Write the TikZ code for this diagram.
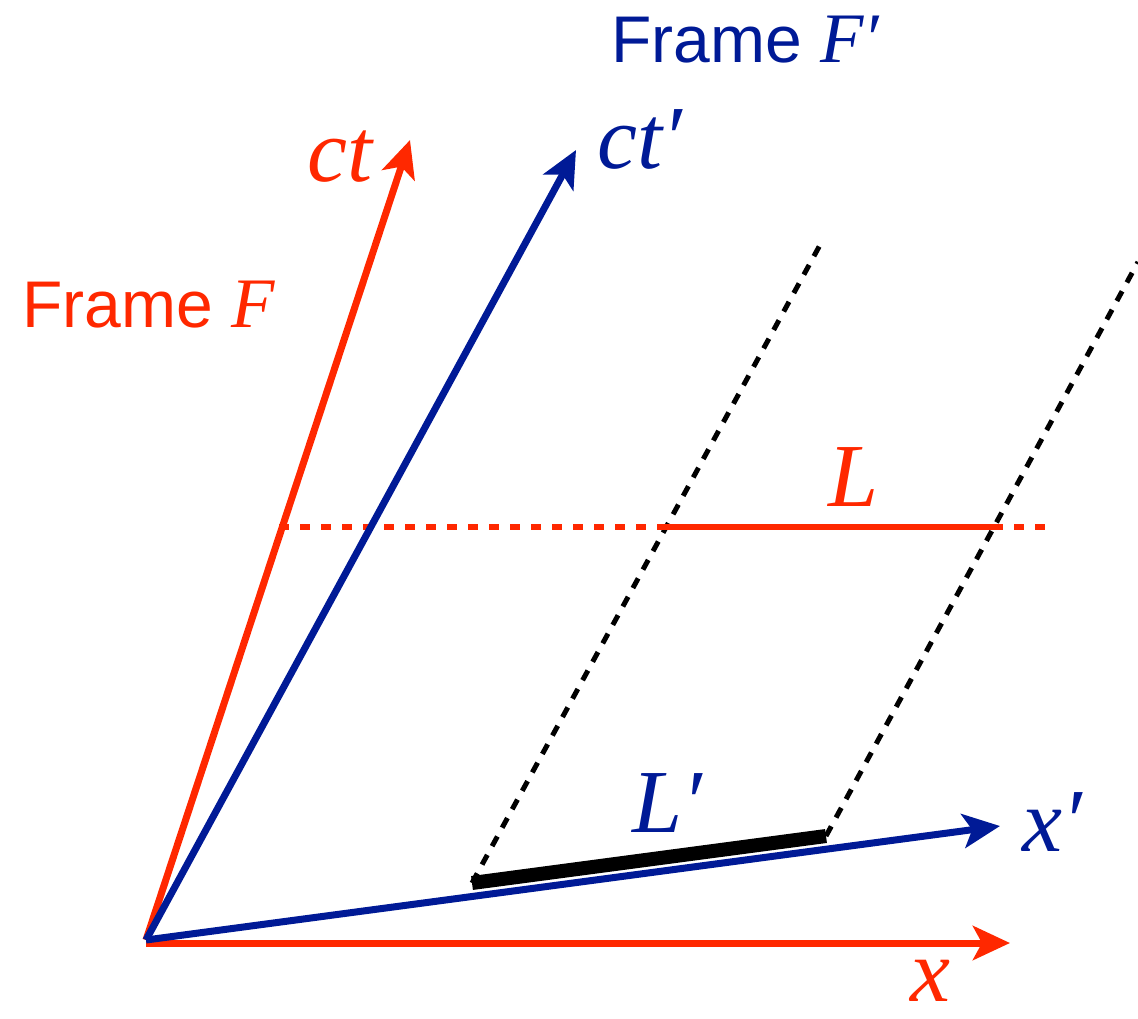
\documentclass[tikz,border=0pt]{standalone}
\usepackage{fontspec}
\setmainfont{Liberation Sans}
\newfontfamily\mi{Liberation Serif}
\usetikzlibrary{arrows.meta}
\definecolor{fred}{RGB}{255,40,0}
\definecolor{fblue}{RGB}{0,26,150}
\begin{document}
\begin{tikzpicture}[x=1pt,y=-1pt,
  axis/.style={line width=7pt,-{Stealth[length=37pt,width=34pt,inset=9pt]}},
  lab/.style={inner sep=0pt,anchor=base west},
  big/.style={font={\mi\itshape\fontsize{90}{90}\selectfont}},
  frm/.style={font={\fontsize{66}{66}\selectfont}},
  worldline/.style={black,line width=5pt,dash pattern=on 11pt off 10pt},
  simline/.style={fred,line width=5.5pt},
  simdash/.style={fred,line width=5.5pt,dash pattern=on 10pt off 11pt},
  rod/.style={black,line width=14pt},
]
\useasboundingbox (0,0) rectangle (1138,1018);
% points
\coordinate (O) at (146,940);
\coordinate (Ox) at (146,943);
\coordinate (X) at (1010,943);
\coordinate (CT) at (410,140);
\coordinate (CTp) at (576,150);
\coordinate (Xp) at (1000,826);
\coordinate (A) at (472,883);
\coordinate (B) at (826,836);
\coordinate (A2) at (820,245);
\coordinate (B2) at (1138,262);
\coordinate (H1) at (279,527);
\coordinate (H2) at (1055,527);
\coordinate (L1) at (665,527);
\coordinate (L2) at (993,527);
% world lines
\draw[worldline] (A) -- (A2);
\draw[worldline] (B) -- (B2);
% simultaneity line in F
\draw[simdash] (H1) -- (H2);
\draw[simline] (L1) -- (L2);
% axes
\draw[axis,fred] (Ox) -- (X);
\draw[axis,fred] (O) -- (CT);
\draw[axis,fblue] (O) -- (CTp);
\draw[axis,fblue] (O) -- (Xp);
% rod
\draw[rod] (A) -- (B);
% labels
\node[lab,frm,fblue] (fFp) at (611,62) {Frame {\mi\itshape\fontsize{71}{71}\selectfont F′}};
\node[lab,frm,fred] (fF) at (22,327) {Frame {\mi\itshape\fontsize{71}{71}\selectfont F}};
\node[lab,big,fblue] (lctp) at (597,168) {ct′};
\node[lab,big,fred] (lct) at (307,181) {ct};
\node[lab,big,fred] (lL) at (828,506) {L};
\node[lab,big,fblue] (lLp) at (632,832) {L′};
\node[lab,big,fblue] (lxp) at (1022,851) {x′};
\node[lab,big,fred] (lx) at (910,1001) {x};
\end{tikzpicture}
\end{document}
